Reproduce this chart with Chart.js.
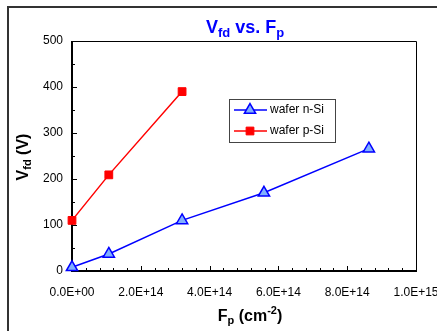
<!DOCTYPE html>
<html lang="en">
<head>
<meta charset="UTF-8">
<title>Vfd vs. Fp</title>
<script src="https://cdn.jsdelivr.net/npm/chart.js"></script>
<style>
    body { margin: 0; background: #fff; }
    #wrap { width: 437px; height: 331px; }
</style>
</head>
<body>
<div id="wrap"><canvas id="chart" width="437" height="331"></canvas></div>
<script>
    // data
    var fluenceN = [0, 1.07e14, 3.2e14, 5.58e14, 8.63e14];
    var vfdN = [8, 37, 110, 170, 266];
    var fluenceP = [0, 1.07e14, 3.2e14];
    var vfdP = [110, 209, 390];
    var xTicks = [0, 2e14, 4e14, 6e14, 8e14, 1e15];
    var yTicks = [0, 100, 200, 300, 400, 500];
    var seriesNames = ['wafer n-Si', 'wafer p-Si'];

    var FONT = '"Liberation Sans", Arial, sans-serif';
    Chart.defaults.font.family = FONT;
    Chart.defaults.color = '#000';

    function toPoints(xs, ys) {
        return xs.map(function (x, i) { return { x: x, y: ys[i] }; });
    }

    // 2.0E+14 style labels
    function fmtExp(v) {
        var parts = Number(v).toExponential(1).toUpperCase().split('E');
        var e = parseInt(parts[1], 10);
        var s = Math.abs(e) < 10 ? '0' + Math.abs(e) : '' + Math.abs(e);
        return parts[0] + 'E' + (e < 0 ? '-' : '+') + s;
    }

    // text with sub/superscripts
    function richWidth(ctx, parts) {
        var w = 0;
        parts.forEach(function (p) {
            ctx.font = 'bold ' + p.size + 'px ' + FONT;
            w += ctx.measureText(p.t).width;
        });
        return w;
    }
    function drawRich(ctx, parts, cx, baseY) {
        var x = cx - richWidth(ctx, parts) / 2;
        parts.forEach(function (p) {
            ctx.font = 'bold ' + p.size + 'px ' + FONT;
            ctx.fillText(p.t, x, baseY + (p.dy || 0));
            x += ctx.measureText(p.t).width;
        });
    }

    var framePlugin = {
        id: 'frame',
        beforeDatasetsDraw: function (chart) {
            var ctx = chart.ctx, a = chart.chartArea;
            var xs = chart.scales.x, ys = chart.scales.y;
            ctx.save();
            // outer border (left + top)
            ctx.strokeStyle = '#333';
            ctx.lineWidth = 2;
            ctx.beginPath();
            ctx.moveTo(8, 331);
            ctx.lineTo(8, 7);
            ctx.lineTo(437, 7);
            ctx.stroke();

            // plot box
            ctx.strokeStyle = '#000';
            ctx.lineWidth = 1;
            ctx.beginPath();
            ctx.moveTo(a.left, a.top + 0.5);
            ctx.lineTo(a.right + 0.5, a.top + 0.5);
            ctx.lineTo(a.right + 0.5, a.bottom);
            ctx.stroke();
            ctx.lineWidth = 2;
            ctx.beginPath();
            ctx.moveTo(a.left, a.top);
            ctx.lineTo(a.left, a.bottom);
            ctx.lineTo(a.right + 1, a.bottom);
            ctx.stroke();

            // inward tick marks
            ctx.lineWidth = 1;
            ctx.beginPath();
            for (var v = 0; v <= 500; v += 50) {
                var py = Math.round(ys.getPixelForValue(v)) + 0.5;
                var len = v % 100 === 0 ? 5 : 3;
                ctx.moveTo(a.left, py);
                ctx.lineTo(a.left + len, py);
            }
            for (var k = 0; k <= 25; k++) {
                var px = Math.round(xs.getPixelForValue(k * 4e13)) + 0.5;
                var l2 = k % 5 === 0 ? 5 : 3;
                ctx.moveTo(px, a.bottom);
                ctx.lineTo(px, a.bottom - l2);
            }
            ctx.stroke();
            ctx.restore();
        },
        afterDraw: function (chart) {
            var ctx = chart.ctx;
            ctx.save();
            ctx.textBaseline = 'alphabetic';
            ctx.textAlign = 'left';

            // chart title
            ctx.fillStyle = '#0000ff';
            drawRich(ctx, [
                { t: 'V', size: 18 }, { t: 'fd', size: 13, dy: 4 },
                { t: ' vs. F', size: 18 }, { t: 'p', size: 13, dy: 4 }
            ], 245, 33);

            // axis titles
            ctx.fillStyle = '#000';
            drawRich(ctx, [
                { t: 'F', size: 16 }, { t: 'p', size: 11, dy: 3 },
                { t: ' (cm', size: 16 }, { t: '-2', size: 11, dy: -7 },
                { t: ')', size: 16 }
            ], 250, 321);

            ctx.save();
            ctx.translate(28, 157);
            ctx.rotate(-Math.PI / 2);
            drawRich(ctx, [
                { t: 'V', size: 16 }, { t: 'fd', size: 11, dy: 3 },
                { t: ' (V)', size: 16 }
            ], 0, 0);
            ctx.restore();

            // legend box
            ctx.fillStyle = '#fff';
            ctx.fillRect(229, 99, 106, 43);
            ctx.strokeStyle = '#444';
            ctx.lineWidth = 1;
            ctx.strokeRect(229.5, 99.5, 106, 43);

            chart.data.datasets.forEach(function (ds, i) {
                var y = 110 + i * 21;
                ctx.strokeStyle = ds.borderColor;
                ctx.lineWidth = ds.borderWidth;
                ctx.beginPath();
                ctx.moveTo(234, y);
                ctx.lineTo(267, y);
                ctx.stroke();
                ctx.fillStyle = ds.pointBackgroundColor;
                ctx.strokeStyle = ds.pointBorderColor;
                ctx.lineWidth = ds.pointBorderWidth;
                Chart.helpers.drawPoint(ctx, {
                    pointStyle: ds.pointStyle, radius: ds.pointRadius,
                    rotation: 0, borderWidth: ds.pointBorderWidth
                }, 250, y);
                ctx.fillStyle = '#000';
                ctx.font = '12px ' + FONT;
                ctx.textBaseline = 'middle';
                ctx.fillText(ds.label, 270, y);
                ctx.textBaseline = 'alphabetic';
            });
            ctx.restore();
        }
    };

    var ctx = document.getElementById('chart').getContext('2d');
    var chart = new Chart(ctx, {
        type: 'scatter',
        data: {
            datasets: [{
                label: seriesNames[0],
                data: toPoints(fluenceN, vfdN),
                showLine: true,
                borderColor: '#0000ff',
                borderWidth: 1.5,
                pointStyle: 'triangle',
                pointRadius: 6.5,
                pointBackgroundColor: '#80b0ff',
                pointBorderColor: '#0000ff',
                pointBorderWidth: 1.5,
                clip: false
            }, {
                label: seriesNames[1],
                data: toPoints(fluenceP, vfdP),
                showLine: true,
                borderColor: '#ff0000',
                borderWidth: 1.5,
                pointStyle: 'rect',
                pointRadius: 5.5,
                pointBackgroundColor: '#ff0000',
                pointBorderColor: '#ff0000',
                pointBorderWidth: 1,
                clip: false
            }]
        },
        options: {
            responsive: false,
            animation: false,
            devicePixelRatio: 1,
            layout: { padding: { left: 0, top: 41, right: 21, bottom: 0 } },
            plugins: {
                legend: { display: false },
                tooltip: { enabled: false },
                title: { display: false }
            },
            scales: {
                x: {
                    type: 'linear',
                    min: 0,
                    max: 1e15,
                    afterBuildTicks: function (s) {
                        s.ticks = xTicks.map(function (v) { return { value: v }; });
                    },
                    afterFit: function (s) {
                        s.height = 60;
                        s.paddingLeft = 0;
                        s.paddingRight = 0;
                    },
                    ticks: {
                        callback: fmtExp,
                        autoSkip: false,
                        maxRotation: 0,
                        padding: 14,
                        font: { size: 12 }
                    },
                    grid: { display: false, drawTicks: false, tickLength: 0 },
                    border: { display: false }
                },
                y: {
                    min: 0,
                    max: 500,
                    afterBuildTicks: function (s) {
                        s.ticks = yTicks.map(function (v) { return { value: v }; });
                    },
                    afterFit: function (s) {
                        s.width = 72;
                        s.paddingTop = 0;
                        s.paddingBottom = 0;
                    },
                    ticks: { padding: 9, font: { size: 12 } },
                    grid: { display: false, drawTicks: false, tickLength: 0 },
                    border: { display: false }
                }
            }
        },
        plugins: [framePlugin]
    });
</script>
</body>
</html>
